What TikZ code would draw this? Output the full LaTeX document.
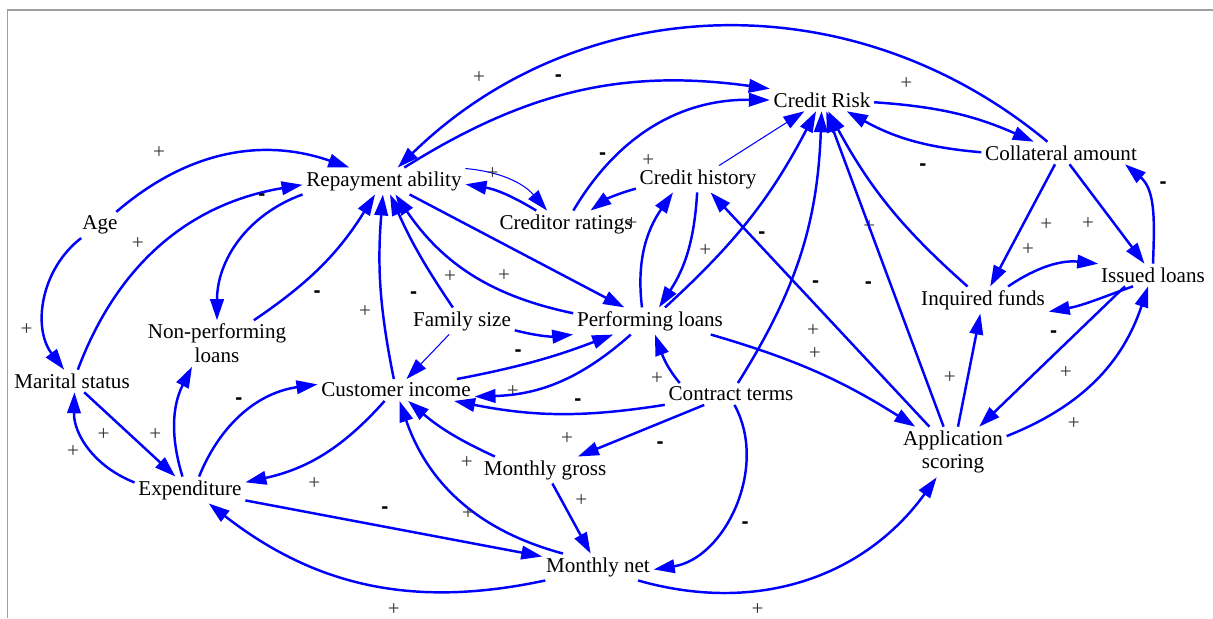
\documentclass[tikz,border=0pt]{standalone}
\usepackage{fontspec}
\setmainfont{Liberation Serif}
\newfontfamily\signfont{Liberation Sans}
\usetikzlibrary{arrows.meta,positioning}

\begin{document}
\begin{tikzpicture}[>={Triangle[length=0.42cm,width=0.27cm]},
    var/.style={align=center, inner sep=2pt, font=\fontsize{12}{13.5}\selectfont},
    link/.style={->, blue, line width=1.4pt},
    thinlink/.style={->, blue, line width=0.6pt},
    polp/.style={inner sep=1pt, text=black!80, font=\fontsize{12}{13.5}\selectfont},
    poln/.style={inner sep=1pt, text=black, font=\signfont\fontsize{12}{13.5}\selectfont\bfseries}]
    \useasboundingbox (0,0) rectangle (24.26,12.36);
    \draw[gray!75, line width=1pt] (0.15,0) -- (0.15,12.16) -- (24.26,12.16);

    \node[var] (crisk) at (16.44,10.36) {Credit Risk};
    \node[var] (rep) at (7.68,8.74) {Repayment ability};
    \node[var] (cred) at (11.32,7.88) {Creditor ratings};
    \node[var] (chist) at (13.96,8.78) {Credit history};
    \node[var] (coll) at (21.22,9.30) {Collateral amount};
    \node[var] (age) at (2.00,7.86) {Age};
    \node[var] (issued) at (23.06,6.86) {Issued loans};
    \node[var] (inq) at (19.66,6.36) {Inquired funds};
    \node[var] (npl) at (4.34,5.49) {Non-performing\\loans};
    \node[var] (fam) at (9.24,5.94) {Family size};
    \node[var] (perf) at (13.00,5.94) {Performing loans};
    \node[var] (mar) at (1.44,4.74) {Marital status};
    \node[var] (inc) at (7.92,4.56) {Customer income};
    \node[var] (contract) at (14.62,4.48) {Contract terms};
    \node[var] (app) at (19.06,3.32) {Application\\scoring};
    \node[var] (gross) at (10.90,2.96) {Monthly gross};
    \node[var] (exp) at (3.80,2.56) {Expenditure};
    \node[var] (net) at (11.96,1.02) {Monthly net};

    % into and out of repayment ability
    \draw[link] (age) to[bend left=30] node[polp,pos=.2,above=11pt] {+} (rep);
    \draw[link] (mar) to[bend left=30] node[polp,pos=.38,above=9pt] {+} (rep);
    \draw[link] (age) to[bend right=45] node[polp,pos=.7,left=6pt] {+} (mar);
    \draw[link] (rep.south west) to[out=200,in=90] node[poln,pos=.28,above=8pt] {-} (npl);
    \draw[link] (npl) to[bend right=12] node[poln,pos=.35,below right=5pt] {-} (rep);
    \draw[link] (inc) to[bend left=8] node[polp,pos=.36,left=5pt] {+} (rep);
    \draw[link] (fam) to[bend left=5] node[poln,pos=.1,left=14pt] {-} (rep);
    \draw[link] (perf) to[bend left=22] node[polp,pos=.63,below=6pt] {+} (rep);
    \draw[link] (rep) -- node[polp,pos=.44,below=13pt] {+} (perf);
    \draw[thinlink] (rep) to[bend left=22] node[polp,pos=.28] {+} (cred);
    \draw[link] (cred) to[bend right=11] (rep);
    \draw[link] (coll) to[bend right=42] node[polp,pos=.86,above=9pt] {+} (rep);

    % credit risk
    \draw[link] (chist) to[bend right=10] node[polp,pos=0,above right=11pt and 2pt] {+} (cred);
    \draw[link] (cred) to[bend left=30] node[poln,pos=.2,above=4pt] {-} (crisk.west);
    \draw[thinlink] (chist) -- (crisk);
    \draw[link] (rep) to[bend left=20] node[poln,pos=.44,above=7pt] {-} (crisk.north west);
    \draw[link] (crisk) to[bend left=10] node[polp,pos=.18,above=7pt] {+} (coll);
    \draw[link] (coll) to[bend left=12] node[poln,pos=.41,below=10pt] {-} (crisk);

    % collateral and loans
    \draw[link] (coll) -- node[polp,pos=.49,right=8pt] {+} (inq);
    \draw[link] (coll) -- node[polp,pos=.6,left=10pt] {+} (issued);
    \draw[link] (issued.north) to[out=88,in=-40] node[poln,pos=.75,right=8pt] {-} (coll.-10);
    \draw[link] (inq) to[bend left=20] node[polp,pos=.23,above=9pt] {+} (issued);
    \draw[link] ([xshift=-0.4cm]issued.south) to[out=200,in=10] node[poln,pos=.95,below=10pt] {-} (inq.-10);
    \draw[link] ([xshift=-0.56cm]issued.south) -- node[polp,pos=.51,below right=5pt] {+} (app);
    \draw[link] (app) to[bend right=25] node[polp,pos=.35,below=9pt] {+} (issued);
    \draw[link] (app) -- node[polp,pos=.43,left=5pt] {+} (inq);
    \draw[link] (inq) to[bend left=10] node[polp,pos=.37,left=16pt] {+} (crisk);
    \draw[link] (app) -- node[poln,pos=.45,left=9pt] {-} (crisk);
    \draw[link] (app) -- node[polp,pos=.41,left=10pt] {+} (chist);

    % performing loans and contract terms
    \draw[link] (contract) to[bend right=15] node[poln,pos=.38,right=11pt] {-} (crisk);
    \draw[link] (perf) to[bend right=10] node[poln,pos=.4,right=11pt] {-} (crisk);
    \draw[link] (chist) to[bend left=15] node[polp,pos=.48,right=5pt] {+} (perf);
    \draw[link] ([xshift=-0.16cm]perf.north) to[out=97,in=235] node[polp,pos=.72,left=8pt] {+} ([xshift=-0.5cm]chist.south);
    \draw[link] ([xshift=-0.32cm]perf.south east) to[bend left=8] node[polp,pos=.49,above=5pt] {+} (app);
    \draw[link] ([xshift=0.3cm]contract.north west) to[out=130,in=-70] node[polp,pos=.35,below left=2pt] {+} (perf);
    \draw[link] (contract) to[bend left=10] node[polp,pos=.46,below=9pt] {+} (inc);
    \draw[link] (contract) -- node[poln,pos=.35,below=9pt] {-} (gross);
    \draw[link] (contract) to[bend left=55] node[poln,pos=.6,right=9pt] {-} (net);
    \draw[link] (fam) to[bend right=10] node[poln,pos=.05,below=9pt] {-} (perf);
    \draw[thinlink] (fam) -- (inc);
    \draw[link] (inc) to[bend right=5] node[polp,pos=.34,below=9pt] {+} (perf);
    \draw[link] (perf) to[bend left=20] node[poln,pos=.37,below=13pt] {-} (inc);

    % income and expenditure
    \draw[link] (inc) to[bend left=18] node[polp,pos=.56,below=9pt] {+} (exp);
    \draw[link] (exp) to[bend left=30] node[poln,pos=.45,above=6pt] {-} (inc);
    \draw[link] ([xshift=-0.15cm]exp.north) to[bend left=22] node[polp,pos=.37,left=6pt] {+} ([xshift=-0.5cm]npl.south);
    \draw[link] (mar) -- node[polp,pos=.35,below left=3pt] {+} (exp);
    \draw[link] (exp) to[bend left=35] node[polp,pos=.45,left=6pt] {+} (mar);
    \draw[link] (exp) -- node[poln,pos=.47,above=6pt] {-} (net);
    \draw[link] (net) to[bend left=25] node[polp,pos=.42,below=7pt] {+} (exp);
    \draw[link] ([xshift=-0.7cm]net.north) to[bend left=28] node[polp,pos=.4,left] {+} (inc);
    \draw[link] ([xshift=0.3cm]gross.north west) to[bend left=8] node[polp,pos=.29,below=6pt] {+} (inc);
    \draw[link] (gross) -- node[polp,pos=.25,right=6pt] {+} (net);
    \draw[link] ([xshift=0.8cm]net.south) to[bend right=35] node[polp,pos=.35,below=6pt] {+} (app);
\end{tikzpicture}
\end{document}
